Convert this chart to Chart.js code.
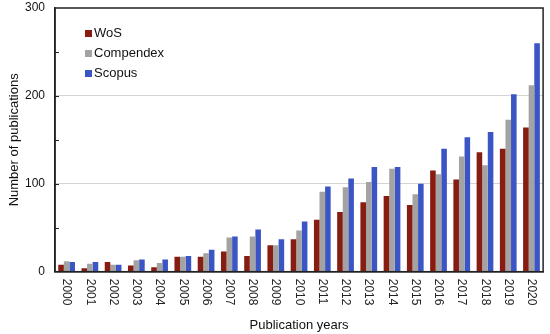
<!DOCTYPE html>
<html>
<head>
<meta charset="utf-8">
<script src="https://cdn.jsdelivr.net/npm/chart.js@4.4.1/dist/chart.umd.min.js"></script>
<style>
  html, body { margin: 0; padding: 0; background: #fff; }
  #wrap { width: 550px; height: 334px; position: relative; }
</style>
</head>
<body>
<div id="wrap"><canvas id="pubs"></canvas></div>
<script>
var years = ['2000','2001','2002','2003','2004','2005','2006','2007','2008','2009','2010',
             '2011','2012','2013','2014','2015','2016','2017','2018','2019','2020'];
var wos       = [8, 4, 11, 7, 5, 17, 17, 23, 18, 30, 37, 59, 68, 79, 86, 76, 115, 105, 136, 140, 164];
var compendex = [12, 9, 8, 13, 10, 17, 21, 39, 40, 30, 47, 91, 96, 102, 117, 88, 111, 131, 121, 173, 212];
var scopus    = [11, 11, 8, 14, 14, 18, 25, 40, 48, 37, 57, 97, 106, 119, 119, 100, 140, 153, 159, 202, 260];
var seriesNames = ['WoS', 'Compendex', 'Scopus'];
var seriesColors = ['#861c12', '#a3a3a3', '#3c55c4'];

var FONT = '"Liberation Sans", Arial, sans-serif';

// draws frame, inner ticks, rotated year labels and the legend
var extras = {
  id: 'extras',
  afterDraw: function(chart) {
    var ctx = chart.ctx;
    var a = chart.chartArea;
    var x = chart.scales.x, y = chart.scales.y;
    ctx.save();
    // little ticks inside the left axis
    ctx.strokeStyle = '#222';
    ctx.lineWidth = 1;
    [50, 100, 150, 200, 250].forEach(function(v) {
      var py = Math.round(y.getPixelForValue(v)) + 0.5;
      ctx.beginPath();
      ctx.moveTo(a.left, py);
      ctx.lineTo(a.left + 4, py);
      ctx.stroke();
    });
    // frame
    ctx.lineWidth = 1.5;
    ctx.strokeStyle = '#222';
    ctx.strokeRect(a.left, a.top, a.right - a.left, a.bottom - a.top);
    // year labels, turned clockwise
    ctx.fillStyle = '#222';
    ctx.font = '12px ' + FONT;
    ctx.textAlign = 'left';
    ctx.textBaseline = 'middle';
    years.forEach(function(lab, i) {
      var px = x.getPixelForTick(i);
      ctx.save();
      ctx.translate(px, a.bottom + 7);
      ctx.rotate(Math.PI / 2);
      ctx.fillText(lab, 0, 0);
      ctx.restore();
    });
    // legend
    ctx.font = '13px ' + FONT;
    var ly = [33, 53, 73];
    seriesNames.forEach(function(n, i) {
      ctx.fillStyle = seriesColors[i];
      ctx.fillRect(85, ly[i] - 3, 7, 7);
      ctx.fillStyle = '#111';
      ctx.fillText(n, 94, ly[i] + 0.5);
    });
    ctx.restore();
  }
};

var chartEl = document.getElementById('pubs');
var pubsChart = new Chart(chartEl, {
  type: 'bar',
  data: {
    labels: years,
    datasets: [
      { label: seriesNames[0], data: wos, backgroundColor: seriesColors[0] },
      { label: seriesNames[1], data: compendex, backgroundColor: seriesColors[1] },
      { label: seriesNames[2], data: scopus, backgroundColor: seriesColors[2] }
    ]
  },
  options: {
    responsive: true,
    maintainAspectRatio: false,
    animation: false,
    datasets: { bar: { categoryPercentage: 0.72, barPercentage: 1.0 } },
    layout: { padding: { top: 0, right: 5, left: 7, bottom: 1 } },
    plugins: { legend: { display: false }, tooltip: { enabled: false } },
    scales: {
      x: {
        grid: { display: false },
        border: { color: '#222', width: 1.5 },
        ticks: {
          color: 'rgba(0,0,0,0)',
          font: { size: 12, family: FONT },
          minRotation: 90, maxRotation: 90,
          autoSkip: false, padding: 4
        },
        title: {
          display: true, text: 'Publication years', color: '#111',
          font: { size: 13, family: FONT }, padding: { top: 3, bottom: 0 }
        }
      },
      y: {
        min: 0, max: 300,
        border: { color: '#222', width: 1.5 },
        afterFit: function(s) { s.width = 48; s.paddingTop = 8; s.paddingBottom = 0; },
        grid: {
          drawTicks: false,
          color: function(c) {
            return (c.tick && (c.tick.value === 100 || c.tick.value === 200)) ? '#d4d4d4' : 'rgba(0,0,0,0)';
          }
        },
        ticks: {
          stepSize: 50, padding: 10, color: '#111',
          font: { size: 12, family: FONT },
          callback: function(v) { return v % 100 === 0 ? v : ''; }
        },
        title: {
          display: true, text: 'Number of publications', color: '#111',
          font: { size: 13, family: FONT }, padding: { top: 0, bottom: 3 }
        }
      }
    }
  },
  plugins: [extras]
});
</script>
</body>
</html>
